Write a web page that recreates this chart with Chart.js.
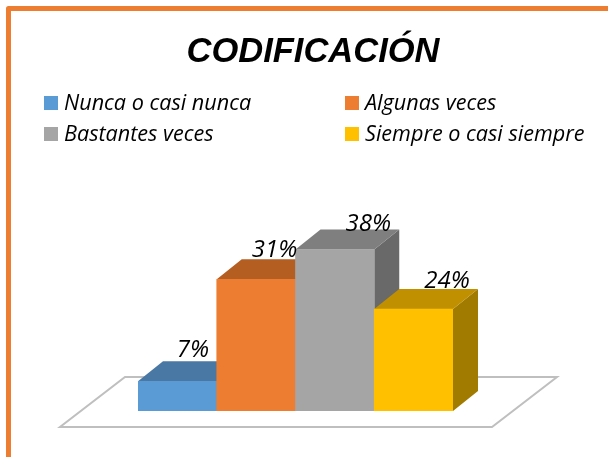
<!DOCTYPE html>
<html>
<head>
<meta charset="utf-8">
<style>
  html, body { margin: 0; padding: 0; background: #fff; }
  #wrap { width: 608px; height: 457px; position: relative; }
</style>
<script src="https://cdn.jsdelivr.net/npm/chart.js@4"></script>
</head>
<body>
<div id="wrap"><canvas id="codificacionChart" width="608" height="457"></canvas></div>
<script>
const categories = ["Nunca o casi nunca", "Algunas veces", "Bastantes veces", "Siempre o casi siempre"];
const percentages = [7, 31, 38, 24];
const frontColors = ["#5b9bd5", "#ed7d31", "#a5a5a5", "#ffc000"];
const topColors = ["#4a78a5", "#b55e22", "#7f7f7f", "#c09000"];
const sideColors = ["#41688f", "#9c5120", "#696969", "#a07b00"];

// depth of the fake 3D extrusion, in px
const DEPTH_X = 25;
const DEPTH_Y = 20;

function poly(ctx, pts, fill) {
    ctx.beginPath();
    pts.forEach((p, i) => i ? ctx.lineTo(p[0], p[1]) : ctx.moveTo(p[0], p[1]));
    ctx.closePath();
    ctx.fillStyle = fill;
    ctx.fill();
}

// orange frame around the whole picture
const framePlugin = {
    id: "frame",
    beforeDraw(chart) {
        const ctx = chart.ctx;
        ctx.save();
        ctx.strokeStyle = "#ed7d31";
        ctx.lineWidth = 5;
        ctx.lineJoin = "round";
        ctx.strokeRect(8.5, 8.5, 700, 600);
        ctx.restore();
    }
};

// floor and the top / side faces, the front faces are the real bars
const box3dPlugin = {
    id: "box3d",
    beforeDatasetsDraw(chart) {
        const ctx = chart.ctx;
        const bars = chart.getDatasetMeta(0).data;
        const area = chart.chartArea;
        ctx.save();

        // floor
        const floorBottom = area.bottom + 16;
        const floorTop = floorBottom - 50;
        ctx.beginPath();
        ctx.moveTo(area.left - 78, floorBottom);
        ctx.lineTo(area.right + 39, floorBottom);
        ctx.lineTo(area.right + 104, floorTop);
        ctx.lineTo(area.left - 13, floorTop);
        ctx.closePath();
        ctx.strokeStyle = "#bfbfbf";
        ctx.lineWidth = 2;
        ctx.stroke();

        bars.forEach((bar, i) => {
            const left = bar.x - bar.width / 2;
            const right = bar.x + bar.width / 2;
            const top = bar.y;
            const base = bar.base;
            poly(ctx, [[right, top], [right + DEPTH_X, top - DEPTH_Y], [right + DEPTH_X, base - DEPTH_Y], [right, base]], sideColors[i]);
            poly(ctx, [[left, top], [left + DEPTH_X, top - DEPTH_Y], [right + DEPTH_X, top - DEPTH_Y], [right, top]], topColors[i]);
        });
        ctx.restore();
    },
    afterDatasetsDraw(chart) {
        const ctx = chart.ctx;
        const bars = chart.getDatasetMeta(0).data;
        // hand placed like in the original, labels don't follow the bars exactly
        const nudgeX = [3, 6, 21, 21];
        const nudgeY = [-4, -2, 1, -1];
        ctx.save();
        ctx.font = "italic 24px 'Open Sans'";
        ctx.fillStyle = "#000";
        ctx.textAlign = "center";
        ctx.textBaseline = "alphabetic";
        bars.forEach((bar, i) => {
            ctx.fillText(percentages[i] + "%", bar.x + DEPTH_X / 2 + nudgeX[i], bar.y - DEPTH_Y + nudgeY[i]);
        });
        ctx.restore();
    }
};

// two column legend, the built in one can't line up its columns
const legendPlugin = {
    id: "legend2col",
    afterDraw(chart) {
        const ctx = chart.ctx;
        ctx.save();
        ctx.font = "italic 21.6px 'Open Sans'";
        ctx.textBaseline = "alphabetic";
        categories.forEach((name, i) => {
            const x = i % 2 ? 345 : 44;
            const y = i < 2 ? 96 : 127;
            ctx.fillStyle = frontColors[i];
            ctx.fillRect(x, y, 14, 14);
            ctx.fillStyle = "#000";
            ctx.fillText(name, i % 2 ? x + 20 : x + 20, y + 14);
        });
        ctx.restore();
    }
};

new Chart(document.getElementById("codificacionChart").getContext("2d"), {
    type: "bar",
    data: {
        labels: categories,
        datasets: [{
            data: percentages,
            backgroundColor: frontColors,
            borderWidth: 0,
            barPercentage: 1,
            categoryPercentage: 1
        }]
    },
    options: {
        responsive: false,
        animation: false,
        layout: { padding: { left: 18, right: 0, top: 0, bottom: 46 } },
        scales: {
            x: { display: false },
            y: {
                min: 0,
                max: 60,
                ticks: { display: false },
                grid: { display: false },
                border: { display: false },
                afterFit(scale) { scale.width = 120; }
            },
            yRight: {
                position: "right",
                ticks: { display: false },
                grid: { display: false },
                border: { display: false },
                afterFit(scale) { scale.width = 155; }
            }
        },
        plugins: {
            legend: { display: false },
            tooltip: { enabled: false },
            title: {
                display: true,
                text: "CODIFICACIÓN",
                color: "#000",
                font: { family: "'Liberation Sans'", size: 34.5, style: "italic", weight: "bold" },
                padding: { top: 32, bottom: 82.6 }
            }
        }
    },
    plugins: [framePlugin, box3dPlugin, legendPlugin]
});
</script>
</body>
</html>
